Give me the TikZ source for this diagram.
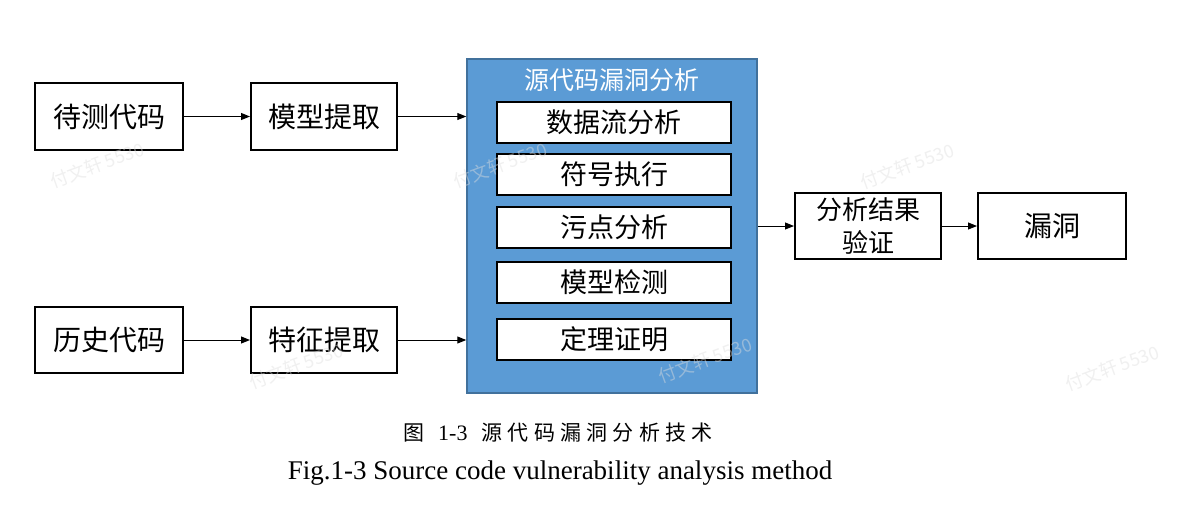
\documentclass[tikz,border=0pt]{standalone}
\usepackage{fontspec}
\setmainfont{Liberation Serif}
\newfontfamily\cjk{Noto Sans CJK SC}
\newfontfamily\cjkcap[LetterSpace=25]{Noto Sans CJK SC}
\usetikzlibrary{arrows.meta}
\definecolor{panelblue}{RGB}{91,155,213}
\definecolor{panelborder}{RGB}{65,113,156}
\definecolor{wmgray}{RGB}{222,222,222}
\begin{document}
\begin{tikzpicture}[x=1pt,y=-1pt,
  box/.style={draw=black, line width=2pt, fill=white, inner sep=0pt,
    minimum width=146pt, minimum height=66pt, align=center,
    font=\cjk\fontsize{28}{33}\selectfont},
  inbox/.style={draw=black, line width=2pt, fill=white, inner sep=0pt,
    minimum width=234pt, minimum height=41pt,
    font=\cjk\fontsize{27}{30}\selectfont},
  arr/.style={draw=black, line width=1pt, -{Triangle[length=9pt,width=7pt]}},
  wm/.style={text=wmgray, text opacity=0.45, rotate=20, inner sep=0pt, font=\cjk\fontsize{18}{20}\selectfont}]
\useasboundingbox (0,0) rectangle (1182,531);
\fill[white] (0,0) rectangle (1182,531);
% left boxes
\node[box, minimum width=148pt, minimum height=67pt] (dc) at (109,116.5) {待测代码};
\node[box, minimum height=67pt] (mx) at (324,116.5) {模型提取};
\node[box, minimum width=148pt] (ls) at (109,340) {历史代码};
\node[box] (tz) at (324,340) {特征提取};
% panel
\node[draw=panelborder, fill=panelblue, line width=1.5pt, minimum width=290pt,
  minimum height=334pt, inner sep=0pt] (panel) at (612,226) {};
\node[text=white, font=\cjk\fontsize{25}{28}\selectfont] (ptitle) at (612,80) {源代码漏洞分析};
\node[inbox] (i1) at (614,122.5) {数据流分析};
\node[inbox] (i2) at (614,174) {符号执行};
\node[inbox] (i3) at (614,227) {污点分析};
\node[inbox] (i4) at (614,282.5) {模型检测};
\node[inbox] (i5) at (614,339) {定理证明};
% right boxes
\node[box, font=\cjk\fontsize{26}{33}\selectfont] (res) at (868,226) {分析结果\\验证};
\node[box, minimum width=148pt] (ld) at (1052,226) {漏洞};
% arrows
\draw[arr] (dc.east) -- (mx.west);
\draw[arr] (mx.east) -- (panel.west |- mx.east);
\draw[arr] (ls.east) -- (tz.west);
\draw[arr] (tz.east) -- (panel.west |- tz.east);
\draw[arr] (panel.east |- res.west) -- (res.west);
\draw[arr] (res.east) -- (ld.west);
% watermarks
\node[wm] (w1) at (97,165) {付文轩 5530};
\node[wm] (w2) at (500,165) {付文轩 5530};
\node[wm] (w3) at (907,166) {付文轩 5530};
\node[wm] (w4) at (296,366) {付文轩 5530};
\node[wm] (w5) at (705,360) {付文轩 5530};
\node[wm] (w6) at (1112,368) {付文轩 5530};
% captions
\node[anchor=west, inner sep=0pt] (cap1) at (403,433) {\cjk\fontsize{21}{24}\selectfont 图\hspace{14pt}\fontsize{22}{24}\rmfamily 1-3\hspace{14pt}\cjkcap\fontsize{21}{24}\selectfont 源代码漏洞分析技术};
\node[font=\fontsize{27}{30}\selectfont] (cap2) at (560,473) {Fig.1-3 Source code vulnerability analysis method};
\end{tikzpicture}
\end{document}
